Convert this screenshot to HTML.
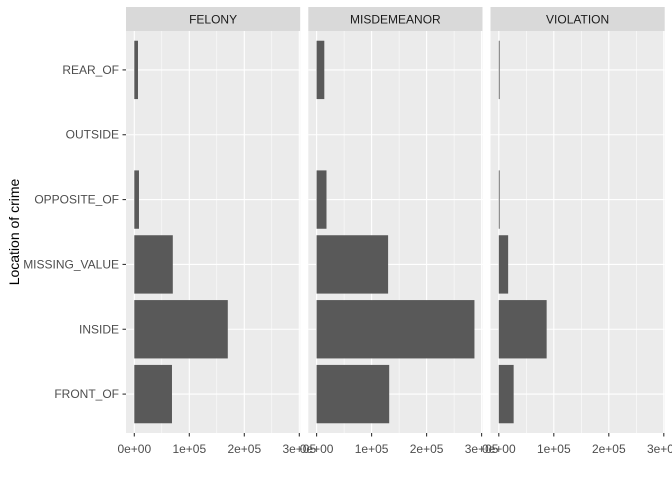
<!DOCTYPE html>
<html><head><meta charset="utf-8"><style>
body{margin:0;background:#fff;font-family:"Liberation Sans",sans-serif}
</style></head><body>
<svg id="c" width="672" height="480" xmlns="http://www.w3.org/2000/svg"></svg>
<script>
const categories=["FRONT_OF","INSIDE","MISSING_VALUE","OPPOSITE_OF","OUTSIDE","REAR_OF"];
const panels=["FELONY","MISDEMEANOR","VIOLATION"];
const felony=[68500,170000,70000,8500,0,6700];
const misdemeanor=[132000,287000,130000,18000,0,14000];
const violation=[27000,87000,17000,1500,0,1500];
const xTicks=[0,100000,200000,300000];
const xTickLabels=["0e+00","1e+05","2e+05","3e+05"];
const series=[felony,misdemeanor,violation];
const NS="http://www.w3.org/2000/svg";
const svgEl=document.getElementById('c');
function el(t,a,p){const e=document.createElementNS(NS,t);for(const k in a)e.setAttribute(k,a[k]);(p||svgEl).appendChild(e);return e;}
const px0=[126,308.3,490.5],pw=174.2,TOPY=31,BOTY=433,stripTop=7;
const xs=(i,v)=>px0[i]+8.3+v*55/100000;
const step=(BOTY-TOPY)/6.2;
const yc=j=>BOTY-step*(0.6+j);
panels.forEach((p,i)=>{
  const g=el('g',{});
  
  
  el('rect',{x:px0[i],y:TOPY,width:pw,height:BOTY-TOPY,fill:'#ebebeb'},g);
  const s=el('rect',{x:px0[i],y:stripTop,width:pw,height:TOPY-stripTop,fill:'#d9d9d9'},g);
  
  
  const st=el('text',{x:px0[i]+pw/2,y:23.5,'text-anchor':'middle','font-size':'12',fill:'#1a1a1a'},g);
  st.textContent=p;
  for(let k=0;k<3;k++){const v=(xTicks[k]+xTicks[k+1])/2;const x=xs(i,v);el('line',{x1:x,x2:x,y1:TOPY,y2:BOTY,stroke:'#fff','stroke-width':0.55},g);}
  xTicks.forEach(v=>{const x=xs(i,v);el('line',{x1:x,x2:x,y1:TOPY,y2:BOTY,stroke:'#fff','stroke-width':1.1},g);});
  categories.forEach((c,j)=>{const y=yc(j);el('line',{x1:px0[i],x2:px0[i]+pw,y1:y,y2:y,stroke:'#fff','stroke-width':1.1},g);});
  series[i].forEach((v,j)=>{
    const y=yc(j),h=step*0.9;
    const r=el('rect',{x:xs(i,0),y:y-h/2,width:Math.max(0,xs(i,v)-xs(i,0)),height:h,fill:'#595959'},g);
    
    
  });
  xTicks.forEach((v,k)=>{const x=xs(i,v);
    el('line',{x1:x,x2:x,y1:BOTY,y2:BOTY+3.5,stroke:'#333','stroke-width':1.1},g);
    const t=el('text',{x:x,y:BOTY+20,'text-anchor':'middle','font-size':'12',fill:'#4d4d4d'},g);
    
    
    t.textContent=xTickLabels[k];});
});
categories.forEach((c,j)=>{const y=yc(j);
  el('line',{x1:122.5,x2:126,y1:y,y2:y,stroke:'#333','stroke-width':1.1});
  const t=el('text',{x:119,y:y+4,'text-anchor':'end','font-size':'12',fill:'#4d4d4d'});
  
  
  t.textContent=c;});
const yt=el('text',{x:19,y:(TOPY+BOTY)/2,'text-anchor':'middle','font-size':'14',fill:'#000',transform:`rotate(-90 19 ${(TOPY+BOTY)/2})`});


yt.textContent="Location of crime";
</script>
</body></html>
